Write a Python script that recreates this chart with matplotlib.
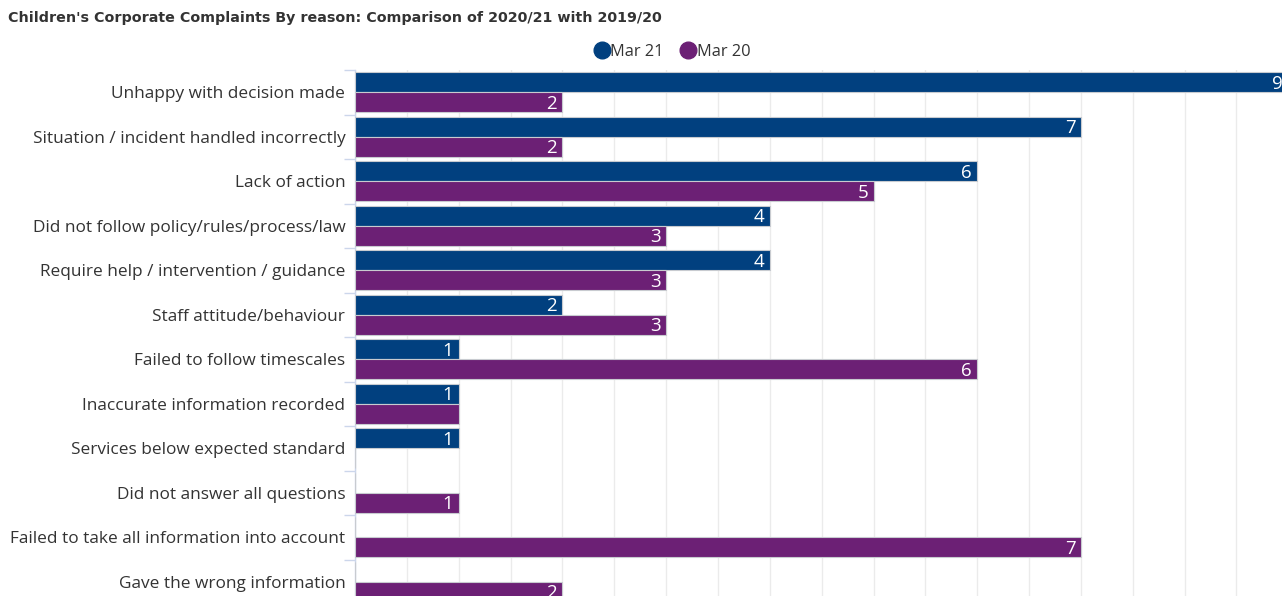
import matplotlib
matplotlib.use("Agg")
import matplotlib.pyplot as plt
from matplotlib.lines import Line2D
import numpy as np

categories = [
    "Unhappy with decision made",
    "Situation / incident handled incorrectly",
    "Lack of action",
    "Did not follow policy/rules/process/law",
    "Require help / intervention / guidance",
    "Staff attitude/behaviour",
    "Failed to follow timescales",
    "Inaccurate information recorded",
    "Services below expected standard",
    "Did not answer all questions",
    "Failed to take all information into account",
    "Gave the wrong information",
]
mar21 = [9, 7, 6, 4, 4, 2, 1, 1, 1, 0, 0, 0]
mar20 = [2, 2, 5, 3, 3, 3, 6, 1, 0, 1, 7, 2]
# data label shown in the reference (one label is hidden there)
mar20_label_shown = [True, True, True, True, True, True, True, False, True, True, True, True]
series_names = ["Mar 21", "Mar 20"]
colors = ["#01407f", "#6c2075"]

plt.rcParams['font.family'] = ['Open Sans', 'DejaVu Sans']

W, H = 1282, 596
fig = plt.figure(figsize=(W / 100, H / 100), dpi=100)
ax_left = 355 / W
ax_top_px = 70
ax = fig.add_axes([ax_left, 0, 1 - ax_left, (H - ax_top_px) / H])

n = len(categories)
y = np.arange(n)
bh = 0.45
ax.barh(y - bh / 2, mar21, height=bh, color=colors[0], edgecolor="#c8cbd0", linewidth=0.8, zorder=3)
ax.barh(y + bh / 2, mar20, height=bh, color=colors[1], edgecolor="#c8cbd0", linewidth=0.8, zorder=3)

for i in range(n):
    if mar21[i] > 0:
        ax.text(mar21[i] - 0.05, y[i] - bh / 2 + 0.03, str(mar21[i]), color="white",
                ha="right", va="center", fontsize=13.5, zorder=4, clip_on=False)
    if mar20[i] > 0 and mar20_label_shown[i]:
        ax.text(mar20[i] - 0.05, y[i] + bh / 2 + 0.03, str(mar20[i]), color="white",
                ha="right", va="center", fontsize=13.5, zorder=4, clip_on=False)

ax.set_yticks(y)
ax.set_yticklabels(categories, fontsize=12.4, color="#333333")
ax.set_yticks(np.arange(-0.5, n, 1), minor=True)
ax.tick_params(axis="y", which="major", length=0, pad=7)
ax.tick_params(axis="y", which="minor", length=8, color="#ccd6eb", width=1)

ax.set_xticks(np.arange(0, 9.5, 0.5))
ax.tick_params(axis="x", which="both", length=0, labelbottom=False)
ax.grid(axis="x", color="#ebebeb", linewidth=1, zorder=0)
ax.set_axisbelow(True)

# axes limits (set after ticks): bottom of the chart is cut by the figure edge
px_per_cat = 44.5
ax.set_ylim(n - 0.5 - (n * px_per_cat - (H - ax_top_px)) / px_per_cat, -0.5)
px_per_unit = 103.7
ax.set_xlim(0, (W - 355) / px_per_unit)

for s in ["top", "right", "bottom"]:
    ax.spines[s].set_visible(False)
ax.spines["left"].set_color("#ccd6eb")
ax.spines["left"].set_linewidth(1)

fig.text(8 / W, 1 - 18 / H, "Children's Corporate Complaints By reason: Comparison of 2020/21 with 2019/20",
         fontsize=10.25, fontweight="bold", color="#333333", ha="left", va="center",
         family="DejaVu Sans")

handles = [Line2D([0], [0], marker="o", linestyle="", markersize=12, color=c) for c in colors]
fig.legend(handles, series_names, loc="center", bbox_to_anchor=(672 / W, 1 - 52 / H),
           ncol=2, frameon=False, fontsize=11.8, handletextpad=0.0, columnspacing=1.0,
           labelcolor="#333333", handlelength=1.0)

fig.savefig("out.png", dpi=100)
